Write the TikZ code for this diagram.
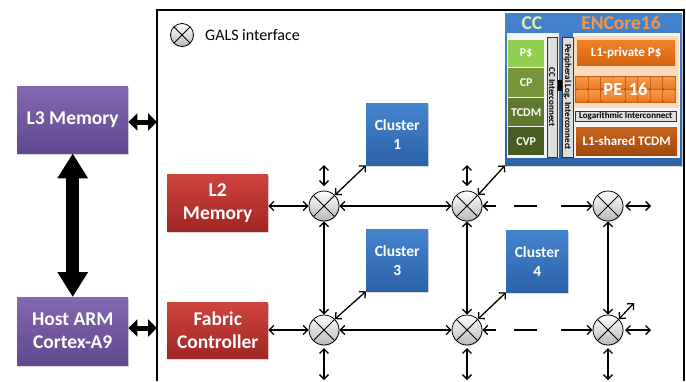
\documentclass[tikz,border=0pt]{standalone}
\usepackage{fontspec}
\setmainfont{Carlito}
\usetikzlibrary{arrows.meta,shadows,calc}

\definecolor{purpTop}{RGB}{131,103,176}
\definecolor{purpBot}{RGB}{97,72,143}
\definecolor{redTop}{RGB}{208,68,62}
\definecolor{redBot}{RGB}{160,38,36}
\definecolor{bluTop}{RGB}{68,132,206}
\definecolor{bluBot}{RGB}{44,98,168}
\definecolor{ccText}{RGB}{226,238,170}
\definecolor{encText}{RGB}{245,150,70}
\definecolor{gPs}{RGB}{146,206,80}
\definecolor{gCP}{RGB}{118,150,58}
\definecolor{gTC}{RGB}{94,120,45}
\definecolor{gCV}{RGB}{72,92,36}
\definecolor{orTop}{RGB}{240,130,40}
\definecolor{orBot}{RGB}{215,100,15}
\definecolor{peDark}{RGB}{196,98,22}
\definecolor{peTop}{RGB}{247,152,72}
\definecolor{peBot}{RGB}{232,122,40}
\definecolor{shTop}{RGB}{200,100,28}
\definecolor{shBot}{RGB}{160,74,14}
\definecolor{peach}{RGB}{252,218,190}
\definecolor{barGray}{RGB}{222,222,222}
\definecolor{innerBg}{RGB}{244,244,244}

\begin{document}
\begin{tikzpicture}[x=1pt,y=-1pt,
  blk/.style={rectangle, inner sep=0pt, anchor=north west, text=white, align=center,
    font=\bfseries\fontsize{19.5}{23}\selectfont,
    drop shadow={shadow xshift=1.2pt, shadow yshift=-1.5pt, opacity=0.3}},
  purplebox/.style={blk, top color=purpTop, bottom color=purpBot},
  redbox/.style={blk, top color=redTop, bottom color=redBot},
  bluebox/.style={blk, top color=bluTop, bottom color=bluBot, minimum size=62pt,
    font=\bfseries\fontsize{15.5}{19}\selectfont},
  gbox/.style={rectangle, inner sep=0pt, anchor=north west, text=white,
    minimum width=36pt, font=\bfseries\fontsize{12}{14}\selectfont, fill=#1},
  obox/.style={rectangle, inner sep=0pt, anchor=north west, text=white,
    minimum width=98pt, font=\bfseries\fontsize{13}{15}\selectfont},
  ibar/.style={rectangle, inner sep=0pt, draw=black!80, line width=0.5pt, fill=barGray,
    font=\bfseries\fontsize{9}{10}\selectfont},
  gals/.style={circle, draw, line width=0.8pt, minimum size=30pt, inner sep=0pt,
    top color=white, bottom color=black!28,
    drop shadow={shadow xshift=0.6pt, shadow yshift=-1pt, opacity=0.25},
    path picture={\draw[line width=0.8pt]
      (path picture bounding box.north west) -- (path picture bounding box.south east)
      (path picture bounding box.north east) -- (path picture bounding box.south west);}},
  link/.style={line width=1.3pt,
    {Straight Barb[length=4.5pt,width=9pt]}-{Straight Barb[length=4.5pt,width=9pt]}},
  dlink/.style={link, dash pattern=on 12pt off 18pt on 23pt off 24pt on 40pt},
  fatlink/.style={line width=5pt,
    {Triangle[length=9pt,width=17pt]}-{Triangle[length=9pt,width=17pt]}},
  hugelink/.style={line width=13pt,
    {Triangle[length=25pt,width=29pt]}-{Triangle[length=25pt,width=29pt]}}
]
\useasboundingbox (0,0) rectangle (686,381);

% fabric frame
\draw[line width=2pt] (157,381) -- (157,10) -- (683.5,10) -- (683.5,381);

% host side
\node[purplebox, minimum width=111pt, minimum height=67pt] (L3) at (17,86) {L3 Memory};
\node[purplebox, minimum width=111pt, minimum height=68pt] (ARM) at (17,297) {Host ARM\\Cortex-A9};
\coordinate (fL3) at (157,122);
\coordinate (fARM) at (157,328);

% memories and controller
\node[redbox, minimum width=101pt, minimum height=57pt] (L2) at (167,174) {L2\\Memory};
\node[redbox, minimum width=101pt, minimum height=56pt] (FC) at (167,302) {Fabric\\Controller};

% clusters
\node[bluebox] (C1) at (366,103) {Cluster\\1};
\node[bluebox] (C3) at (366,229) {Cluster\\3};
\node[bluebox] (C4) at (506,230) {Cluster\\4};

% expanded cluster
\node[blk, top color=bluTop, bottom color=bluBot, minimum width=177pt, minimum height=152pt] (C2) at (505,13) {};
\fill[innerBg] (507,33) rectangle (559,158);
\fill[innerBg] (573,33) rectangle (680,158);
\fill[peach] (574,36) rectangle (679,108);
\node[text=ccText, font=\bfseries\fontsize{19.5}{21}\selectfont] (cct) at (532,23) {CC};
\node[text=encText, font=\bfseries\fontsize{19.5}{21}\selectfont] (enct) at (621,23) {ENCore16};

\node[gbox=gPs, minimum height=27pt] (ps) at (508,40) {P\$};
\node[gbox=gCP, minimum height=29pt] (cp) at (508,68) {CP};
\node[gbox=gTC, minimum height=28pt] (tcdm) at (508,98) {TCDM};
\node[gbox=gCV, minimum height=28pt] (cvp) at (508,127) {CVP};

\fill[black] (556,80) rectangle (564,91);
\node[ibar, rotate=-90, minimum width=120pt, minimum height=10pt] (ccbar) at (552,97) {CC Interconnect};
\node[ibar, rotate=-90, minimum width=120pt, minimum height=11pt] (pbar) at (567.5,97) {Peripheral Log. Interconnect};

\node[obox, top color=orTop, bottom color=orBot, minimum height=25pt] (l1p) at (577,40) {L1-private P\$};
\fill[peDark] (575,76) rectangle (676,103);
\foreach \i in {0,...,7}{
  \foreach \j in {0,1}{
    \fill[top color=peTop, bottom color=peBot]
      ({576.5+\i*12.4},{77.5+\j*12.6}) rectangle ({576.5+\i*12.4+11},{77.5+\j*12.6+11.4});
  }
}
\node[text=white, font=\bfseries\fontsize{18.5}{20}\selectfont] (pe) at (625.5,89.5) {PE\hspace{0.35em}16};
\node[ibar, anchor=north west, minimum width=101pt, minimum height=10pt] (logic) at (575,111) {Logarithmic Interconnect};
\node[obox, top color=shTop, bottom color=shBot, minimum width=101pt, minimum height=28pt] (l1s) at (576,127) {L1-shared TCDM};

% legend
\node[gals, minimum size=23pt] (leg) at (182,35) {};
\node[anchor=west, inner sep=0pt, font=\fontsize{16}{18}\selectfont] (legt) at (205,35) {GALS interface};

% GALS interfaces
\node[gals] (g11) at (324,206) {};
\node[gals] (g12) at (467,206) {};
\node[gals] (g13) at (608,206) {};
\node[gals] (g21) at (324,330) {};
\node[gals] (g22) at (467,330) {};
\node[gals] (g23) at (608,330) {};

% open ends of the mesh
\coordinate (u11a) at (324,186); \coordinate (u11b) at (324,165);
\coordinate (u12a) at (467,186); \coordinate (u12b) at (467,165);
\coordinate (d21a) at (324,348); \coordinate (d21b) at (324,380);
\coordinate (d22a) at (467,348); \coordinate (d22b) at (467,380);
\coordinate (d23a) at (608,348); \coordinate (d23b) at (608,380);
\coordinate (r13a) at (625,206); \coordinate (r13b) at (651,206);
\coordinate (r23a) at (625,330); \coordinate (r23b) at (651,330);
\coordinate (n23) at (634,303);

% host links
\draw[hugelink] (L3.south) -- (ARM.north);
\draw[fatlink] (L3.east |- fL3) -- (fL3);
\draw[fatlink] (ARM.east |- fARM) -- (fARM);

% mesh links
\draw[link] (L2.east |- g11) -- (g11);
\draw[link] (FC.east |- g21) -- (g21);
\draw[link] (g11) -- (g12);
\draw[link] (g21) -- (g22);
\draw[dlink] (g12) -- (g13);
\draw[dlink] (g22) -- (g23);
\draw[link] (g11) -- (g21);
\draw[link] (g12) -- (g22);
\draw[link] (g13) -- (g23);

\draw[link] (g11.north east) -- (C1.south west);
\draw[link] (g12.north east) -- (C2.south west);
\draw[link] (g21.north east) -- (C3.south west);
\draw[link] (g22.north east) -- (C4.south west);

\draw[link] (u11a) -- (u11b);
\draw[link] (u12a) -- (u12b);
\draw[link] (d21a) -- (d21b);
\draw[link] (d22a) -- (d22b);
\draw[link] (d23a) -- (d23b);
\draw[link] (r13a) -- (r13b);
\draw[link] (r23a) -- (r23b);
\draw[link] (g23.north east) -- (n23);
\end{tikzpicture}
\end{document}
